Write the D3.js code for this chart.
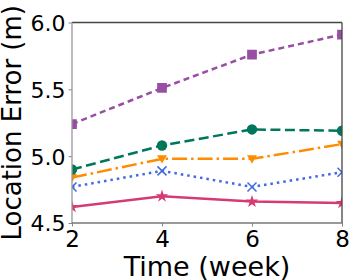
<!DOCTYPE html>
<html>
<head>
<meta charset="utf-8">
<script src="https://cdn.jsdelivr.net/npm/d3@7"></script>
<style>
  body { margin: 0; background: #fff; }
  text { font-family: "DejaVu Sans", sans-serif; fill: #000; }
</style>
</head>
<body>
<script>
// values
var weeks = [2, 4, 6, 8];
var purpleVals = [5.24, 5.51, 5.76, 5.91];
var greenVals = [4.90, 5.08, 5.20, 5.19];
var orangeVals = [4.84, 4.98, 4.98, 5.09];
var blueVals = [4.77, 4.89, 4.77, 4.88];
var pinkVals = [4.62, 4.70, 4.66, 4.65];
var yTicks = [4.5, 5.0, 5.5, 6.0];

var margin = {top: 22.5, right: 7, bottom: 57, left: 72};
var width = 349 - margin.left - margin.right;
var height = 280 - margin.top - margin.bottom;

var svg = d3.select("body")
  .append("svg")
    .attr("width", 349)
    .attr("height", 280);

var g = svg.append("g")
    .attr("transform", "translate(" + margin.left + "," + margin.top + ")");

var x = d3.scaleLinear().domain([2, 8]).range([0, width]);
var y = d3.scaleLinear().domain([4.5, 6.0]).range([height, 0]);

svg.append("defs").append("clipPath")
    .attr("id", "plotclip")
  .append("rect")
    .attr("width", width)
    .attr("height", height);

var series = [
  {vals: purpleVals, color: "#984ea3", dash: "6,4", marker: d3.symbolSquare, size: 95},
  {vals: greenVals, color: "#00765a", dash: "10,4.5", marker: d3.symbolCircle, size: 85},
  {vals: orangeVals, color: "#ff8c00", dash: "15,4,2.5,4", marker: "tri", size: 10},
  {vals: blueVals, color: "#4169e1", dash: "2.5,4", marker: "x", size: 9},
  {vals: pinkVals, color: "#d63a75", dash: null, marker: d3.symbolStar, size: 50}
];

var line = d3.line()
  .x(function(d, i) { return x(weeks[i]); })
  .y(function(d) { return y(d); });

var plot = g.append("g").attr("clip-path", "url(#plotclip)");

// draw bottom series first so purple ends on top like the reference
series.slice().reverse().forEach(function(s) {
  plot.append("path")
    .datum(s.vals)
    .attr("fill", "none")
    .attr("stroke", s.color)
    .attr("stroke-width", 2.5)
    .attr("stroke-dasharray", s.dash)
    .attr("d", line);

  var m = plot.append("g").selectAll("path")
    .data(s.vals)
    .enter().append("path")
      .attr("transform", function(d, i) { return "translate(" + x(weeks[i]) + "," + y(d) + ")"; });

  if (s.marker === "tri") {
    var r = s.size / 2;
    m.attr("d", "M" + (-r) + "," + (-r * 0.7) + "L" + r + "," + (-r * 0.7) + "L0," + (r * 0.95) + "Z")
      .attr("fill", s.color);
  } else if (s.marker === "x") {
    var h = s.size / 2;
    m.attr("d", "M" + (-h) + "," + (-h) + "L" + h + "," + h + "M" + (-h) + "," + h + "L" + h + "," + (-h))
      .attr("fill", "none")
      .attr("stroke", s.color)
      .attr("stroke-width", 1.5);
  } else {
    m.attr("d", d3.symbol().type(s.marker).size(s.size))
      .attr("fill", s.color);
  }
});

// axes
var yAxis = g.append("g")
  .call(d3.axisLeft(y).tickValues(yTicks).tickFormat(d3.format(".1f")).tickSizeOuter(0).tickSize(3.5).tickPadding(3));
yAxis.select(".domain").remove();
yAxis.selectAll("line").attr("stroke", "#888");
yAxis.selectAll("text").attr("font-size", 22).attr("dy", "0.36em").style("font-family", "DejaVu Sans");

var xAxis = g.append("g")
  .attr("transform", "translate(0," + height + ")")
  .call(d3.axisBottom(x).tickValues(weeks).tickFormat(d3.format("d")).tickSizeOuter(0).tickSize(3.5).tickPadding(4));
xAxis.select(".domain").remove();
xAxis.selectAll("line").attr("stroke", "#888");
xAxis.selectAll("text").attr("font-size", 23).attr("dy", "0.72em").style("font-family", "DejaVu Sans");

// spines
g.append("line").attr("x1", 0).attr("x2", width).attr("y1", 0).attr("y2", 0)
  .attr("stroke", "#444").attr("stroke-width", 1.3);
g.append("line").attr("x1", width).attr("x2", width).attr("y1", 0).attr("y2", height)
  .attr("stroke", "#444").attr("stroke-width", 1.3);
g.append("line").attr("x1", 0).attr("x2", 0).attr("y1", 0).attr("y2", height)
  .attr("stroke", "#999").attr("stroke-width", 1.3);
g.append("line").attr("x1", 0).attr("x2", width).attr("y1", height).attr("y2", height)
  .attr("stroke", "#777").attr("stroke-width", 1.3);

// axis labels
svg.append("text")
  .attr("transform", "translate(21," + (margin.top + height / 2) + ") rotate(-90)")
  .attr("text-anchor", "middle")
  .attr("font-size", 26)
  .text("Location Error (m)");

svg.append("text")
  .attr("x", margin.left + width / 2)
  .attr("y", 276)
  .attr("text-anchor", "middle")
  .attr("font-size", 27)
  .text("Time (week)");
</script>
</body>
</html>
